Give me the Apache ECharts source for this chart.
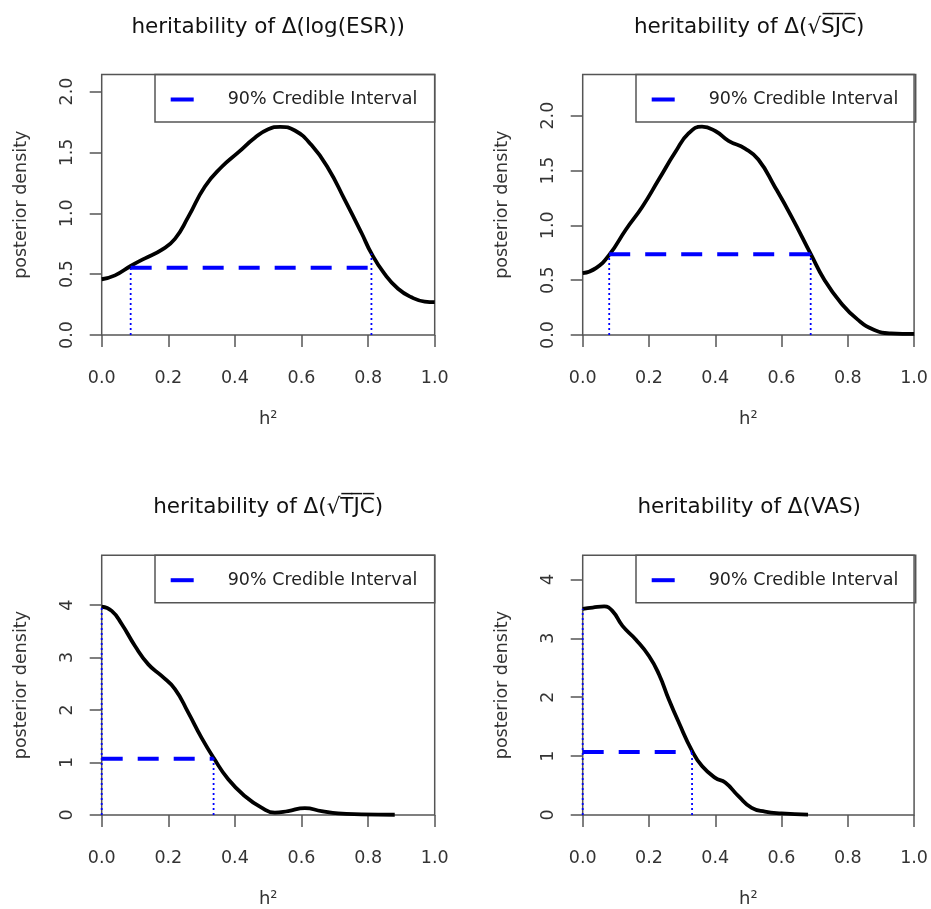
<!DOCTYPE html>
<html><head><meta charset="utf-8">
<script src="https://cdn.jsdelivr.net/npm/echarts@6/dist/echarts.min.js"></script>
<style>html,body{margin:0;padding:0;background:#fff}#c{width:931px;height:909px}</style>
</head><body><div id="c"></div>
<script>
// ---- data ----
const panelTitles = [
  'heritability of \u0394(log(ESR))',
  'heritability of \u0394(\u221AS\u0305J\u0305C\u0305)',
  'heritability of \u0394(\u221AT\u0305J\u0305C\u0305)',
  'heritability of \u0394(VAS)'
];
const xAxisTitle = 'h\u00B2';
const yAxisTitle = 'posterior density';
const legendLabel = '90% Credible Interval';
const xTicks = [0, 0.2, 0.4, 0.6, 0.8, 1.0];
const yTicksSmall = [0, 0.5, 1.0, 1.5, 2.0];
const yTicksLarge = [0, 1, 2, 3, 4];
const yMax = [2.14, 2.375, 4.95, 4.41];

const esrX = [0, 0.04, 0.087, 0.13, 0.18, 0.22, 0.26, 0.31, 0.36, 0.41, 0.46, 0.50, 0.536, 0.58, 0.63, 0.68, 0.73, 0.78, 0.81, 0.85, 0.89, 0.93, 0.97, 1.0];
const esrY = [0.458, 0.49, 0.567, 0.63, 0.70, 0.79, 0.97, 1.22, 1.38, 1.50, 1.62, 1.69, 1.71, 1.68, 1.56, 1.37, 1.11, 0.84, 0.67, 0.50, 0.38, 0.31, 0.275, 0.27];

const sjcX = [0, 0.04, 0.08, 0.13, 0.18, 0.23, 0.28, 0.32, 0.36, 0.40, 0.44, 0.49, 0.53, 0.58, 0.63, 0.688, 0.73, 0.78, 0.83, 0.88, 0.93, 1.0];
const sjcY = [0.563, 0.61, 0.73, 0.96, 1.17, 1.42, 1.67, 1.84, 1.90, 1.86, 1.77, 1.70, 1.60, 1.35, 1.08, 0.74, 0.50, 0.29, 0.14, 0.046, 0.015, 0.01];

const tjcX = [0, 0.03, 0.06, 0.10, 0.14, 0.18, 0.22, 0.26, 0.30, 0.336, 0.38, 0.43, 0.48, 0.52, 0.56, 0.61, 0.66, 0.71, 0.78, 0.88];
const tjcY = [3.97, 3.89, 3.64, 3.22, 2.87, 2.65, 2.40, 1.95, 1.47, 1.09, 0.68, 0.36, 0.14, 0.045, 0.076, 0.13, 0.076, 0.03, 0.013, 0.005];

const vasX = [0, 0.03, 0.065, 0.09, 0.12, 0.16, 0.20, 0.23, 0.26, 0.29, 0.33, 0.36, 0.40, 0.43, 0.47, 0.51, 0.55, 0.60, 0.68];
const vasY = [3.50, 3.52, 3.54, 3.46, 3.21, 2.98, 2.70, 2.39, 1.96, 1.57, 1.09, 0.83, 0.63, 0.55, 0.32, 0.12, 0.057, 0.028, 0.006];

const hpdLevel = [0.553, 0.737, 1.07, 1.07];
const hpdLow = [0.087, 0.08, 0, 0];
const hpdHigh = [0.81, 0.688, 0.336, 0.33];
const densAtLow = [0.567, 0.73, 3.97, 3.50];
const densAtHigh = [0.67, 0.74, 1.09, 1.09];

// ---- layout ----
const FONT = '"DejaVu Sans", sans-serif';
const GL = [101.7, 582.7, 101.7, 582.7];
const GT = [74.5, 74.5, 555.2, 555.2];
const GW = 333, GH = 260.5;
const AX = '#555';
const BLUE = '#0000ff';

const curvesX = [esrX, sjcX, tjcX, vasX];
const curvesY = [esrY, sjcY, tjcY, vasY];
const yTicksAll = [yTicksSmall, yTicksSmall, yTicksLarge, yTicksLarge];
const yDec = [1, 1, 0, 0];

const grids = [], xAxes = [], yAxes = [], series = [], legends = [], graphics = [];
for (let i = 0; i < 4; i++) {
  grids.push({left: GL[i], top: GT[i], width: GW, height: GH, show: true,
    borderColor: AX, borderWidth: 1.5, backgroundColor: 'transparent'});
  xAxes.push({type: 'value', gridIndex: i, min: 0, max: 1,
    axisLine: {show: false}, splitLine: {show: false},
    axisTick: {show: true, length: 12, customValues: xTicks, lineStyle: {color: AX, width: 1.5}},
    axisLabel: {customValues: xTicks, margin: 34, fontFamily: FONT, fontSize: 17.5, color: '#333',
      formatter: v => v.toFixed(1)},
    name: xAxisTitle, nameLocation: 'middle', nameGap: 75,
    nameTextStyle: {fontFamily: FONT, fontSize: 18, color: '#333'}});
  const yt = yTicksAll[i], dec = yDec[i];
  yAxes.push({type: 'value', gridIndex: i, min: 0, max: yMax[i],
    axisLine: {show: false}, splitLine: {show: false},
    axisTick: {show: true, length: 12, customValues: yt, lineStyle: {color: AX, width: 1.5}},
    axisLabel: {customValues: yt, rotate: 90, margin: 25, fontFamily: FONT, fontSize: 17.5, color: '#333',
      formatter: v => v.toFixed(dec)},
    name: yAxisTitle, nameLocation: 'middle', nameGap: 71, nameRotate: 90,
    nameTextStyle: {fontFamily: FONT, fontSize: 17.5, color: '#333'}});
  series.push({type: 'line', name: 'density ' + i, xAxisIndex: i, yAxisIndex: i,
    data: curvesX[i].map((x, k) => [x, curvesY[i][k]]),
    smooth: 0.5, symbol: 'none', lineStyle: {color: '#000', width: 3.8}, z: 3, silent: true});
  series.push({type: 'line', name: legendLabel, xAxisIndex: i, yAxisIndex: i,
    data: [[hpdLow[i], hpdLevel[i]], [hpdHigh[i], hpdLevel[i]]],
    symbol: 'none', itemStyle: {color: BLUE},
    lineStyle: {color: BLUE, width: 4, type: [21, 15], cap: 'butt'}, z: 4, silent: true});
  series.push({type: 'line', name: 'lowbar ' + i, xAxisIndex: i, yAxisIndex: i,
    data: [[hpdLow[i], 0], [hpdLow[i], densAtLow[i]]],
    symbol: 'none', lineStyle: {color: BLUE, width: 1.8, type: [2, 3]}, z: 5, silent: true});
  series.push({type: 'line', name: 'highbar ' + i, xAxisIndex: i, yAxisIndex: i,
    data: [[hpdHigh[i], 0], [hpdHigh[i], densAtHigh[i]]],
    symbol: 'none', lineStyle: {color: BLUE, width: 1.8, type: [2, 3]}, z: 5, silent: true});
  legends.push({data: [legendLabel], left: GL[i] + 69, top: GT[i] + 16, padding: 0,
    icon: 'rect', itemWidth: 23, itemHeight: 4, itemStyle: {color: BLUE}, selectedMode: false,
    textStyle: {fontFamily: FONT, fontSize: 17.5, color: '#222', lineHeight: 18, padding: [0, 0, 0, 29]}});
  graphics.push({type: 'rect', shape: {x: GL[i] + 53.3, y: GT[i], width: GW - 53.3, height: 47.5},
    style: {fill: 'none', stroke: AX, lineWidth: 1.5}, z: 10, silent: true});
  graphics.push({type: 'text', x: GL[i] + GW / 2, y: GT[i] - 47.5,
    style: {text: panelTitles[i], font: '21.5px ' + FONT, fill: '#111', align: 'center', verticalAlign: 'middle'},
    z: 10, silent: true});
}

const chart = echarts.init(document.getElementById('c'), null, {renderer: 'canvas'});
chart.setOption({
  backgroundColor: '#fff',
  animation: false,
  grid: grids, xAxis: xAxes, yAxis: yAxes, series: series, legend: legends, graphic: graphics
});
</script></body></html>
